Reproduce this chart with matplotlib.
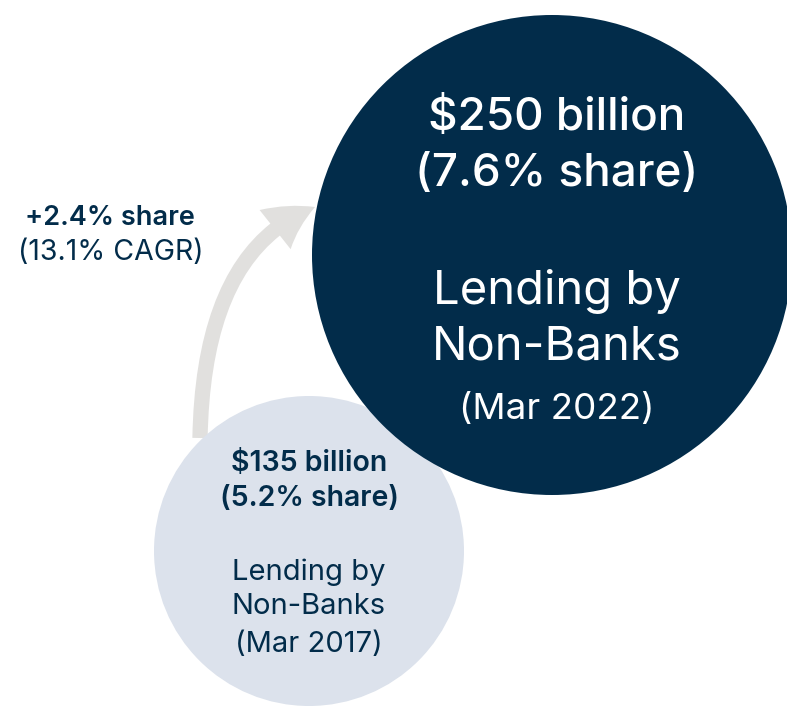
import matplotlib.pyplot as plt
from matplotlib.patches import Circle, FancyArrowPatch

# non-bank lending, two snapshots
periods = ["Mar 2017", "Mar 2022"]
lending_bn = [135, 250]
share_pct = [5.2, 7.6]
years = 5

NAVY = "#022C4A"
PALE = "#DCE2EC"
GREY = "#E1E0DE"

plt.rcParams["font.family"] = ["Inter", "DejaVu Sans"]

fig = plt.figure(figsize=(7.87, 7.06), dpi=100)
ax = fig.add_axes([0, 0, 1, 1])
ax.set_xlim(0, 787)
ax.set_ylim(706, 0)
ax.axis("off")

# circle layout (pixel space)
small = dict(x=309, y=551, r=155)
big = dict(x=552, y=255, r=240)

# growth arrow from the small circle up to the big one
arrow = FancyArrowPatch((200, 438), (315, 207),
                        connectionstyle="angle3,angleA=89,angleB=21",
                        arrowstyle="simple,head_length=33,head_width=36,tail_width=11",
                        mutation_scale=1, shrinkA=0, shrinkB=0,
                        color=GREY, lw=0, zorder=1)
ax.add_patch(arrow)

ax.add_patch(Circle((small["x"], small["y"]), small["r"], color=PALE, lw=0, zorder=2))
ax.add_patch(Circle((big["x"], big["y"]), big["r"], color=NAVY, lw=0, zorder=3))

# labels inside the 2017 circle
cx = small["x"]
ax.text(cx, 464, f"${lending_bn[0]} billion", ha="center", va="center",
        fontsize=20.5, fontweight="semibold", color=NAVY, zorder=4)
ax.text(cx, 498, f"({share_pct[0]}% share)", ha="center", va="center",
        fontsize=20.5, fontweight="semibold", color=NAVY, zorder=4)
ax.text(cx, 572, "Lending by", ha="center", va="center", fontsize=21, color=NAVY, zorder=4)
ax.text(cx, 607, "Non-Banks", ha="center", va="center", fontsize=21, color=NAVY, zorder=4)
ax.text(cx, 645, f"({periods[0]})", ha="center", va="center", fontsize=21, color=NAVY, zorder=4)

# labels inside the 2022 circle
cx = 557
ax.text(cx, 118, f"${lending_bn[1]} billion", ha="center", va="center",
        fontsize=33, fontweight="medium", color="white", zorder=4)
ax.text(cx, 174, f"({share_pct[1]}% share)", ha="center", va="center",
        fontsize=33, fontweight="medium", color="white", zorder=4)
ax.text(cx, 292, "Lending by", ha="center", va="center", fontsize=34, color="white", zorder=4)
ax.text(cx, 347, "Non-Banks", ha="center", va="center", fontsize=34, color="white", zorder=4)
ax.text(cx, 410, f"({periods[1]})", ha="center", va="center", fontsize=26.5, color="white", zorder=4)

# change between the two periods
share_change = share_pct[1] - share_pct[0]
cagr = ((lending_bn[1] / lending_bn[0]) ** (1 / years) - 1) * 100
ax.text(110, 218, f"+{share_change:.1f}% share", ha="center", va="center",
        fontsize=19.5, fontweight="semibold", color=NAVY)
ax.text(111, 252, f"({cagr:.1f}% CAGR)", ha="center", va="center", fontsize=20.5, color=NAVY)

fig.savefig("out.png", dpi=100)
